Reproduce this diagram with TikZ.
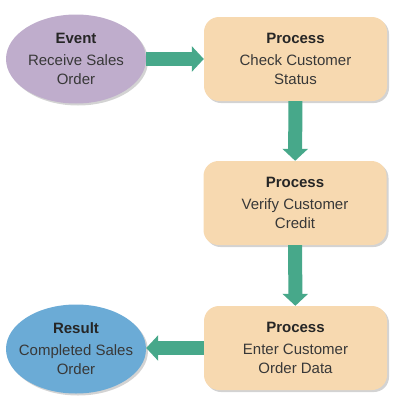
\documentclass[tikz,border=0pt]{standalone}
\usepackage{fontspec}
\setmainfont{Liberation Sans}
\usetikzlibrary{arrows.meta}
\usetikzlibrary{shapes.geometric}
\usetikzlibrary{shadows}
\definecolor{mpurple}{rgb}{0.75, 0.68, 0.80}
\definecolor{mblue}{rgb}{0.42, 0.67, 0.84}
\definecolor{mpeach}{rgb}{0.97, 0.85, 0.69}
\definecolor{mgreen}{rgb}{0.28, 0.66, 0.54}
\definecolor{mtext}{rgb}{0.22, 0.22, 0.22}
\tikzset{procbox/.style = {rectangle, rounded corners=15pt, fill=mpeach,
                           minimum width=183pt, minimum height=84pt,
                           align=center, text=mtext,
                           drop shadow={shadow xshift=2pt, shadow yshift=-2pt,
                                        opacity=0.35}},
         eventell/.style = {ellipse, minimum width=140pt, minimum height=89pt,
                            inner xsep=-16pt, inner ysep=0pt,
                            align=center, text=mtext,
                            drop shadow={shadow xshift=2pt, shadow yshift=-2pt,
                                         opacity=0.35}},
         flow/.style = {mgreen, line width=14pt,
                        -{Triangle[width=25pt, length=12pt]}}}
\newcommand{\ttl}[1]{{\bfseries\color{black!85}#1}\\[3pt]}

\begin{document}
\begin{tikzpicture}[x=1pt, y=-1pt, font=\fontsize{15}{19}\selectfont]
    \useasboundingbox (0, 0) rectangle (404, 410);

    \node [eventell, fill=mpurple] (event) at (76, 59)
          {\ttl{Event}Receive Sales\\Order};
    \node [procbox] (check) at (295.5, 59)
          {\ttl{Process}Check Customer\\Status};
    \node [procbox] (verify) at (295, 203)
          {\ttl{Process}Verify Customer\\Credit};
    \node [procbox] (enter) at (295.5, 348)
          {\ttl{Process}Enter Customer\\Order Data};
    \node [eventell, fill=mblue] (result) at (76, 349)
          {\ttl{Result}Completed Sales\\Order};

    \draw [flow] (event.east) -- (check.west |- event.east);
    \draw [flow] (check) -- (verify);
    \draw [flow] (verify) -- (enter);
    \draw [flow] (enter.west) -- (result.east |- enter.west);
  \end{tikzpicture}
\end{document}
